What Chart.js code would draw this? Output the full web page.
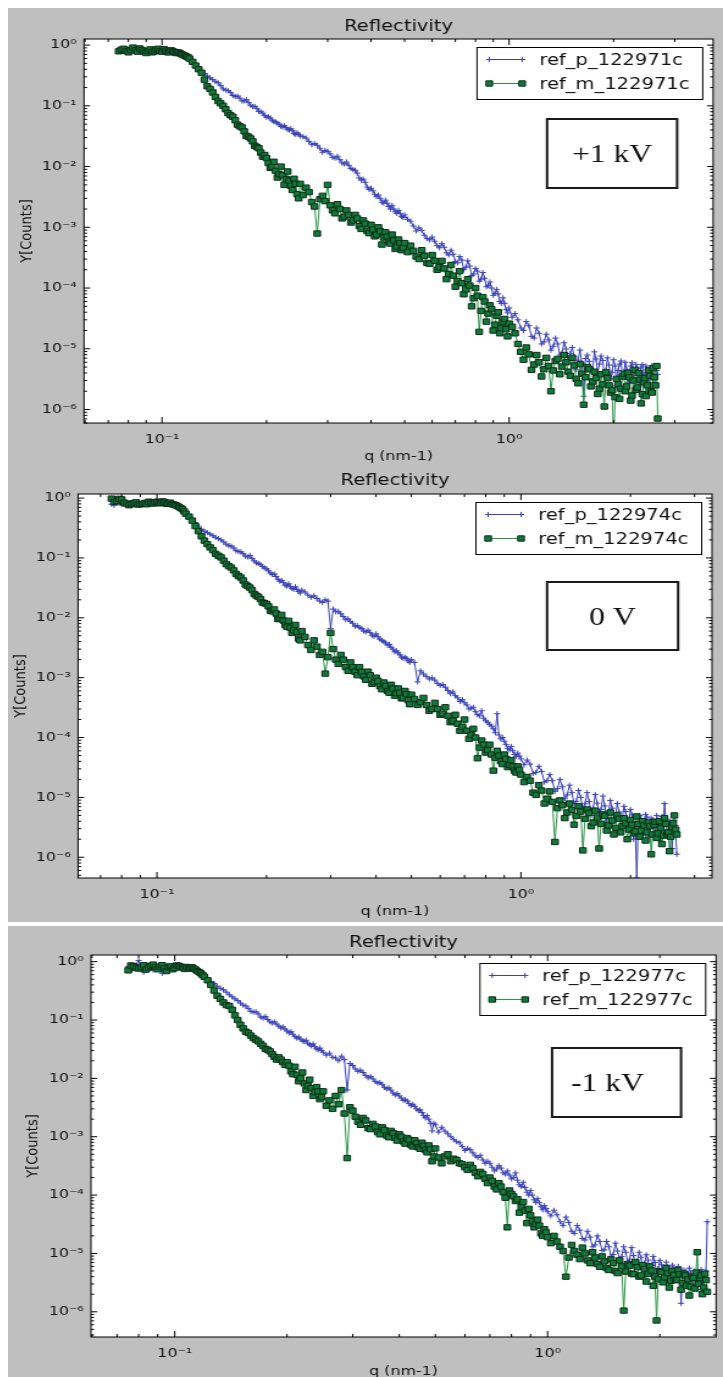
<!DOCTYPE html>
<html>
<head>
<meta charset="utf-8">
<script src="https://cdn.jsdelivr.net/npm/chart.js@4.4.1/dist/chart.umd.min.js"></script>
<style>
  html, body { margin: 0; padding: 0; background: #fff; }
  body { width: 723px; height: 1377px; position: relative; overflow: hidden; }
  canvas { position: absolute; left: 8px; }
</style>
</head>
<body>
<canvas id="panel1" width="586" height="455" style="top:8px;width:715px;height:455px"></canvas>
<canvas id="panel2" width="586" height="459" style="top:463px;width:715px;height:459px"></canvas>
<canvas id="panel3" width="586" height="451" style="top:926px;width:715px;height:451px"></canvas>
<script>
// q grid (nm-1), shared by the three runs
const qValues = [
  0.075, 0.07625, 0.0775, 0.07875, 0.08, 0.08125, 0.0825, 0.08375, 0.085, 0.08625, 0.0875, 0.08875, 0.09, 0.09125, 0.0925, 0.09375, 0.095, 0.09625, 0.0975,
  0.09875, 0.1, 0.10125, 0.1025, 0.10375, 0.105, 0.10625, 0.1075, 0.10875, 0.11, 0.11125, 0.1125, 0.11375, 0.115, 0.11625, 0.1175, 0.11875, 0.12,
  0.1225, 0.125, 0.1275, 0.13, 0.1325, 0.135, 0.1375, 0.14, 0.1425, 0.145, 0.1475, 0.15, 0.1525, 0.155, 0.1575, 0.16, 0.1625, 0.165, 0.1675, 0.17,
  0.1725, 0.175, 0.1775, 0.18, 0.1825, 0.185, 0.1875, 0.19, 0.1925, 0.195, 0.1975, 0.2, 0.2025, 0.205, 0.2075, 0.21, 0.2125, 0.215, 0.2175, 0.22,
  0.2225, 0.225, 0.2275, 0.23, 0.2325, 0.235, 0.2375, 0.24, 0.2425, 0.245, 0.2475, 0.25,
  0.255, 0.26, 0.265, 0.27, 0.275, 0.28, 0.285, 0.29, 0.295, 0.3, 0.305, 0.31, 0.315, 0.32, 0.325, 0.33, 0.335, 0.34, 0.345, 0.35, 0.355, 0.36, 0.365, 0.37, 0.375,
  0.38, 0.385, 0.39, 0.395, 0.4, 0.405, 0.41, 0.415, 0.42, 0.425, 0.43, 0.435, 0.44, 0.445, 0.45, 0.455, 0.46, 0.465, 0.47, 0.475, 0.48, 0.485, 0.49, 0.495, 0.5,
  0.51, 0.52, 0.53, 0.54, 0.55, 0.56, 0.57, 0.58, 0.59, 0.6, 0.61, 0.62, 0.63, 0.64, 0.65, 0.66, 0.67, 0.68, 0.69, 0.7, 0.71, 0.72, 0.73, 0.74, 0.75,
  0.76, 0.77, 0.78, 0.79, 0.8, 0.81, 0.82, 0.83, 0.84, 0.85, 0.86, 0.87, 0.88, 0.89, 0.9, 0.91, 0.92, 0.93, 0.94, 0.95, 0.96, 0.97, 0.98, 0.99, 1.0,
  1.02, 1.04, 1.06, 1.08, 1.1, 1.12, 1.14, 1.16, 1.18, 1.2, 1.22, 1.24, 1.26, 1.28, 1.3, 1.32, 1.34, 1.36, 1.38, 1.4, 1.42, 1.44, 1.46, 1.48, 1.5,
  1.52, 1.54, 1.56, 1.58, 1.6, 1.62, 1.64, 1.66, 1.68, 1.7, 1.72, 1.74, 1.76, 1.78, 1.8, 1.82, 1.84, 1.86, 1.88, 1.9, 1.92, 1.94, 1.96, 1.98, 2.0,
  2.02, 2.04, 2.06, 2.08, 2.1, 2.12, 2.14, 2.16, 2.18, 2.2, 2.22, 2.24, 2.26, 2.28, 2.3, 2.32, 2.34, 2.36, 2.38, 2.4, 2.42, 2.44, 2.46, 2.48, 2.5,
  2.52, 2.54, 2.56, 2.58, 2.6, 2.62, 2.64, 2.66, 2.68
];

// +1 kV run
const refP122971 = [
  0.83, 0.80, 0.79, 0.82, 0.85, 0.80, 0.81, 0.83, 0.78, 0.77, 0.81, 0.80, 0.79, 0.81, 0.76, 0.78, 0.79, 0.76, 0.78, 0.79, 0.76, 0.77, 0.74, 0.75, 0.78, 0.76, 0.74, 0.75, 0.72, 0.73, 0.71, 0.70, 0.68, 0.66, 0.63, 0.60, 0.56,
  0.52, 0.47, 0.43, 0.38, 0.34, 0.31, 0.29, 0.27, 0.25, 0.24, 0.215, 0.19, 0.182, 0.178, 0.165, 0.148, 0.142, 0.145, 0.134, 0.12, 0.121, 0.126, 0.113, 0.102, 0.097, 0.098,
  0.091, 0.081, 0.080, 0.076, 0.069, 0.065, 0.066, 0.063, 0.058, 0.055, 0.054, 0.052, 0.050, 0.046, 0.045, 0.047, 0.044, 0.041, 0.040, 0.042, 0.039, 0.035, 0.034, 0.036, 0.034, 0.032,
  3.1e-2, 2.95e-2, 2.6e-2, 2.29e-2, 2.4e-2, 2.24e-2, 2.0e-2, 1.72e-2, 1.85e-2, 1.78e-2, 1.62e-2, 1.42e-2, 1.38e-2, 1.48e-2, 1.3e-2, 1.15e-2, 1.1e-2, 1.19e-2, 1.05e-2, 9.3e-3, 8.9e-3, 8.7e-3, 7.8e-3, 6.5e-3, 6.0e-3,
  6.2e-3, 5.5e-3, 4.6e-3, 4.2e-3, 4.4e-3, 4.0e-3, 3.5e-3, 3.2e-3, 3.4e-3, 3.0e-3, 2.6e-3, 2.5e-3, 2.8e-3, 2.5e-3, 2.2e-3, 2.0e-3, 2.3e-3, 2.0e-3, 1.8e-3, 1.7e-3, 1.9e-3, 1.7e-3, 1.5e-3, 1.45e-3, 1.6e-3,
  1.35e-3, 1.26e-3, 1.05e-3, 8.7e-4, 9.8e-4, 8.9e-4, 7.4e-4, 6.5e-4, 6.2e-4, 6.9e-4, 5.9e-4, 5.0e-4, 4.6e-4, 5.4e-4, 4.7e-4, 3.8e-4, 3.5e-4, 4.2e-4, 3.6e-4, 2.75e-4, 2.6e-4, 3.3e-4, 2.9e-4, 2.0e-4, 2.2e-4,
  2.8e-4, 2.3e-4, 1.6e-4, 1.7e-4, 2.1e-4, 1.9e-4, 1.3e-4, 1.4e-4, 1.8e-4, 1.45e-4, 1.05e-4, 1.1e-4, 1.26e-4, 1.0e-4, 7.6e-5, 8.2e-5, 9.5e-5, 8.0e-5, 6.0e-5, 5.6e-5, 6.9e-5, 5.6e-5, 4.4e-5, 3.9e-5, 4.7e-5,
  3.3e-5, 3.8e-5, 3.0e-5, 2.2e-5, 2.0e-5, 2.8e-5, 2.4e-5, 1.6e-5, 1.5e-5, 2.2e-5, 1.8e-5, 1.2e-5, 1.3e-5, 1.74e-5, 1.4e-5, 9.5e-6, 1.1e-5, 1.5e-5, 1.2e-5, 7.9e-6, 8.5e-6, 1.26e-5, 9.9e-6, 6.0e-6, 8.3e-6,
  1.05e-5, 7.4e-6, 4.5e-6, 6.5e-6, 9.5e-6, 5.8e-6, 1.66e-6, 6.9e-6, 7.9e-6, 6.2e-6, 4.8e-6, 4.3e-6, 8.9e-6, 6.8e-6, 4.0e-6, 5.6e-6, 7.6e-6, 6.4e-6, 3.5e-6, 4.4e-6, 7.1e-6, 5.4e-6, 3.2e-6, 4.1e-6, 6.6e-6,
  5.2e-6, 2.5e-6, 4.4e-6, 5.6e-6, 6.3e-6, 3.3e-6, 3.9e-6, 6.0e-6, 4.6e-6, 2.8e-6, 4.2e-6, 5.2e-6, 5.9e-6, 3.2e-6, 4.0e-6, 5.5e-6, 4.7e-6, 2.4e-6, 3.6e-6, 5.0e-6, 5.5e-6, 3.0e-6, 3.7e-6, 5.2e-6, 4.5e-6,
  2.6e-6, 3.3e-6, 4.8e-6, 5.3e-6, 2.8e-6, 3.6e-6, 5.0e-6, 4.4e-6, 3.8e-6
];
const refM122971 = [
  0.79, 0.84, 0.87, 0.80, 0.76, 0.83, 0.91, 0.82, 0.78, 0.88, 0.83, 0.78, 0.74, 0.80, 0.85, 0.76, 0.79, 0.84, 0.87, 0.80, 0.78, 0.86, 0.81, 0.77, 0.76, 0.82, 0.79, 0.77, 0.74, 0.76, 0.74, 0.71, 0.69, 0.67, 0.65, 0.63, 0.60,
  0.53, 0.46, 0.40, 0.35, 0.27, 0.21, 0.19, 0.166, 0.14, 0.12, 0.11, 0.10, 0.088, 0.076, 0.070, 0.066, 0.058, 0.049, 0.046, 0.044, 0.038, 0.032, 0.031, 0.029, 0.026, 0.022,
  0.021, 0.020, 0.017, 0.0145, 0.0155, 0.0138, 0.0115, 0.0095, 0.0098, 0.012, 0.0085, 0.0066, 0.0075, 0.010, 0.0072, 0.005, 0.0062, 0.0083, 0.0058, 0.0048, 0.0041, 0.0063, 0.0052, 0.0035, 0.0030, 0.0052,
  3.4e-3, 4.5e-3, 3.8e-3, 2.6e-3, 2.2e-3, 7.9e-4, 2.9e-3, 3.3e-3, 2.7e-3, 5.0e-3, 2.3e-3, 1.9e-3, 1.7e-3, 2.4e-3, 2.0e-3, 1.4e-3, 1.5e-3, 1.9e-3, 1.6e-3, 1.2e-3, 1.3e-3, 1.6e-3, 1.4e-3, 1.05e-3, 9.4e-4,
  1.3e-3, 1.15e-3, 8.7e-4, 8.0e-4, 1.1e-3, 9.2e-4, 7.1e-4, 7.6e-4, 1.0e-3, 8.6e-4, 5.2e-4, 6.8e-4, 8.3e-4, 7.0e-4, 5.8e-4, 5.4e-4, 7.6e-4, 6.1e-4, 4.4e-4, 4.8e-4, 6.3e-4, 5.5e-4, 4.2e-4, 4.6e-4, 5.5e-4,
  3.9e-4, 5.0e-4, 4.1e-4, 3.3e-4, 3.0e-4, 4.2e-4, 3.4e-4, 2.6e-4, 2.5e-4, 3.5e-4, 2.8e-4, 2.0e-4, 2.2e-4, 2.8e-4, 2.1e-4, 1.4e-4, 1.7e-4, 2.4e-4, 1.6e-4, 1.05e-4, 1.3e-4, 1.9e-4, 1.2e-4, 7.9e-5, 9.5e-5,
  1.4e-4, 1.1e-4, 5.0e-5, 6.8e-5, 1.0e-4, 7.5e-5, 1.9e-5, 4.2e-5, 7.1e-5, 6.0e-5, 2.8e-5, 3.8e-5, 5.2e-5, 4.5e-5, 2.0e-5, 2.5e-5, 3.5e-5, 4.0e-5, 1.8e-5, 2.2e-5, 2.8e-5, 3.1e-5, 2.1e-5, 1.6e-5, 2.6e-5,
  2.3e-5, 1.8e-5, 1.2e-5, 8.9e-6, 6.6e-6, 1.05e-5, 8.1e-6, 4.5e-6, 5.5e-6, 7.9e-6, 6.0e-6, 3.5e-6, 4.6e-6, 7.1e-6, 5.2e-6, 2.0e-6, 4.4e-6, 6.3e-6, 6.8e-6, 3.8e-6, 5.1e-6, 7.9e-6, 6.0e-6, 4.2e-6, 3.6e-6,
  7.1e-6, 5.3e-6, 3.2e-6, 2.7e-6, 5.6e-6, 3.9e-6, 1.2e-6, 3.4e-6, 5.0e-6, 4.6e-6, 2.4e-6, 2.9e-6, 4.2e-6, 3.3e-6, 1.8e-6, 2.2e-6, 3.8e-6, 2.6e-6, 1.12e-6, 4.1e-6, 3.3e-6, 2.5e-6, 1.9e-6, 2.1e-6, 3.0e-7,
  1.6e-6, 3.2e-6, 2.6e-6, 1.5e-6, 2.2e-6, 3.5e-6, 3.9e-6, 2.0e-6, 2.4e-6, 4.0e-6, 3.4e-6, 1.4e-6, 1.7e-6, 3.0e-6, 4.5e-6, 2.1e-6, 2.3e-6, 4.0e-6, 3.1e-6, 1.26e-6, 1.8e-6, 2.8e-6, 3.3e-6, 1.66e-6, 2.5e-6,
  4.4e-6, 3.6e-6, 2.0e-6, 1.9e-6, 4.8e-6, 3.4e-6, 2.5e-6, 5.2e-6, 7.1e-7
];

// 0 V run
const refP122974 = [
  0.79, 0.76, 0.83, 0.81, 0.78, 0.80, 0.83, 0.81, 0.79, 0.82, 0.85, 0.83, 0.81, 0.83, 0.85, 0.84, 0.83, 0.86, 0.87, 0.84, 0.85, 0.86, 0.87, 0.85, 0.83, 0.86, 0.85, 0.83, 0.81, 0.80, 0.78, 0.75, 0.72, 0.69, 0.65, 0.61, 0.56,
  0.50, 0.45, 0.39, 0.34, 0.30, 0.28, 0.265, 0.25, 0.235, 0.22, 0.21, 0.20, 0.185, 0.17, 0.16, 0.158, 0.147, 0.132, 0.128, 0.126, 0.118, 0.107, 0.104, 0.11, 0.098, 0.089,
  0.083, 0.081, 0.078, 0.072, 0.068, 0.066, 0.061, 0.056, 0.053, 0.054, 0.049, 0.044, 0.041, 0.042, 0.039, 0.035, 0.034, 0.037, 0.033, 0.031, 0.030, 0.033, 0.030, 0.0275, 0.026, 0.029,
  0.027, 0.024, 0.022, 0.0234, 0.021, 0.019, 0.018, 0.020, 0.019, 0.0066, 0.014, 0.0126, 0.0128, 0.0117, 0.0105, 0.0093, 0.0096, 0.0087, 0.0081, 0.0072, 0.0074, 0.0069, 0.0066, 0.0060, 0.0058,
  0.0062, 0.0057, 0.0051, 0.0049, 0.0054, 0.0048, 0.0044, 0.0042, 0.0040, 0.0038, 0.0035, 0.0036, 0.0032, 0.0030, 0.0027, 0.0028, 0.0026, 0.0024, 0.0022, 0.0021, 0.0022, 0.0021, 0.0019, 0.0018, 0.0020,
  1.8e-3, 8.5e-4, 1.3e-3, 1.15e-3, 1.05e-3, 9.5e-4, 9.9e-4, 9.1e-4, 8.0e-4, 7.4e-4, 7.7e-4, 6.9e-4, 6.1e-4, 5.4e-4, 5.8e-4, 5.0e-4, 4.6e-4, 4.0e-4, 4.3e-4, 3.8e-4, 3.5e-4, 3.0e-4, 3.1e-4, 3.2e-4, 2.7e-4,
  2.4e-4, 2.3e-4, 2.8e-4, 2.1e-4, 1.9e-4, 1.8e-4, 1.66e-4, 1.55e-4, 1.4e-4, 1.2e-4, 2.5e-4, 1.1e-4, 9.5e-5, 1.0e-4, 8.7e-5, 7.6e-5, 6.6e-5, 6.2e-5, 7.1e-5, 6.0e-5, 5.2e-5, 4.8e-5, 5.5e-5, 4.9e-5, 4.4e-5,
  3.5e-5, 4.2e-5, 3.6e-5, 2.5e-5, 2.6e-5, 3.3e-5, 2.7e-5, 1.8e-5, 1.9e-5, 2.4e-5, 1.9e-5, 1.26e-5, 1.4e-5, 2.0e-5, 1.5e-5, 9.5e-6, 1.1e-5, 1.6e-5, 1.2e-5, 7.9e-6, 8.6e-6, 1.3e-5, 1.0e-5, 6.6e-6, 7.8e-6,
  1.2e-5, 8.5e-6, 5.0e-6, 6.6e-6, 1.12e-5, 8.0e-6, 5.6e-6, 6.3e-6, 1.05e-5, 7.2e-6, 4.0e-6, 5.4e-6, 8.9e-6, 6.6e-6, 4.5e-6, 4.9e-6, 7.9e-6, 5.7e-6, 2.8e-6, 4.6e-6, 7.1e-6, 5.8e-6, 3.5e-6, 4.0e-6, 6.3e-6,
  5.1e-6, 2.0e-6, 3.6e-6, 4.5e-7, 3.2e-6, 5.0e-6, 4.4e-6, 2.5e-6, 3.4e-6, 5.2e-6, 4.7e-6, 2.2e-6, 3.1e-6, 4.5e-6, 4.2e-6, 2.6e-6, 3.0e-6, 5.0e-6, 4.1e-6, 1.9e-6, 2.7e-6, 4.8e-6, 3.5e-6, 7.9e-6, 4.3e-6,
  2.4e-6, 2.9e-6, 4.0e-6, 3.8e-6, 1.4e-6, 2.6e-6, 4.2e-6, 3.4e-6, 1.12e-6
];
const refM122974 = [
  0.98, 0.86, 0.89, 0.97, 0.95, 0.84, 0.81, 0.76, 0.79, 0.82, 0.85, 0.78, 0.79, 0.80, 0.83, 0.79, 0.87, 0.84, 0.81, 0.85, 0.87, 0.82, 0.83, 0.88, 0.85, 0.80, 0.81, 0.84, 0.79, 0.78, 0.76, 0.74, 0.71, 0.68, 0.65, 0.60, 0.55,
  0.49, 0.42, 0.34, 0.28, 0.23, 0.195, 0.17, 0.15, 0.135, 0.117, 0.109, 0.102, 0.090, 0.079, 0.073, 0.069, 0.062, 0.054, 0.050, 0.047, 0.042, 0.036, 0.034, 0.032, 0.029, 0.025,
  0.0235, 0.0224, 0.0205, 0.018, 0.0175, 0.017, 0.0155, 0.0132, 0.0128, 0.0138, 0.0118, 0.0095, 0.0098, 0.0112, 0.0090, 0.0076, 0.0071, 0.0089, 0.0068, 0.0056, 0.0062, 0.0076, 0.0058, 0.0045, 0.0042, 0.006,
  4.8e-3, 3.5e-3, 2.9e-3, 4.2e-3, 3.3e-3, 2.4e-3, 2.7e-3, 1.17e-3, 2.2e-3, 5.6e-3, 3.0e-3, 2.0e-3, 1.7e-3, 2.4e-3, 2.0e-3, 1.5e-3, 1.3e-3, 1.8e-3, 1.5e-3, 1.26e-3, 1.1e-3, 1.5e-3, 1.25e-3, 1.05e-3, 9.2e-4,
  1.26e-3, 1.1e-3, 7.9e-4, 8.5e-4, 1.0e-3, 8.8e-4, 7.2e-4, 6.4e-4, 8.3e-4, 7.3e-4, 6.0e-4, 5.6e-4, 7.6e-4, 6.6e-4, 5.0e-4, 5.5e-4, 6.6e-4, 5.6e-4, 4.5e-4, 4.6e-4, 6.0e-4, 5.3e-4, 4.2e-4, 3.6e-4, 5.2e-4,
  4.4e-4, 3.5e-4, 3.9e-4, 4.6e-4, 3.5e-4, 2.8e-4, 3.0e-4, 3.8e-4, 3.0e-4, 2.4e-4, 2.5e-4, 3.2e-4, 2.3e-4, 1.8e-4, 1.9e-4, 2.4e-4, 1.7e-4, 1.3e-4, 1.5e-4, 2.0e-4, 1.3e-4, 9.5e-5, 1.1e-4, 1.4e-4, 1.0e-4,
  4.5e-5, 6.8e-5, 8.9e-5, 7.6e-5, 5.6e-5, 6.2e-5, 7.6e-5, 5.2e-5, 2.8e-5, 4.6e-5, 6.0e-5, 5.0e-5, 4.0e-5, 3.6e-5, 5.2e-5, 4.4e-5, 3.2e-5, 3.5e-5, 4.2e-5, 3.3e-5, 2.8e-5, 2.6e-5, 3.3e-5, 2.9e-5, 2.4e-5,
  1.8e-5, 2.2e-5, 1.9e-5, 1.2e-5, 1.1e-5, 1.6e-5, 1.3e-5, 7.9e-6, 9.5e-6, 1.26e-5, 8.4e-6, 1.8e-6, 6.6e-6, 8.9e-6, 7.4e-6, 4.5e-6, 5.6e-6, 7.9e-6, 6.2e-6, 3.5e-6, 4.9e-6, 7.1e-6, 5.8e-6, 1.3e-6, 4.4e-6,
  6.3e-6, 5.5e-6, 3.3e-6, 3.8e-6, 6.0e-6, 4.6e-6, 1.4e-6, 3.6e-6, 5.2e-6, 4.9e-6, 2.8e-6, 3.4e-6, 5.6e-6, 4.1e-6, 2.4e-6, 3.1e-6, 5.0e-6, 4.4e-6, 2.6e-6, 3.3e-6, 4.5e-6, 3.7e-6, 2.0e-6, 2.9e-6, 4.2e-6,
  3.5e-6, 2.5e-6, 2.7e-6, 4.8e-6, 3.6e-6, 2.2e-6, 2.8e-6, 4.0e-6, 3.4e-6, 1.9e-6, 2.6e-6, 3.8e-6, 3.3e-6, 1.12e-6, 2.4e-6, 3.5e-6, 3.9e-6, 2.1e-6, 2.5e-6, 4.0e-6, 3.1e-6, 1.66e-6, 2.3e-6, 4.5e-6, 3.6e-6,
  2.4e-6, 2.6e-6, 1.26e-6, 2.2e-6, 3.2e-6, 3.7e-6, 5.0e-6, 2.9e-6, 2.4e-6
];

// -1 kV run
const refP122977 = [
  0.83, 0.70, 0.76, 0.88, 1.05, 0.80, 0.66, 0.79, 0.87, 0.78, 0.72, 0.90, 0.83, 0.74, 0.63, 0.81, 0.85, 0.70, 0.76, 0.86, 0.83, 0.77, 0.79, 0.84, 0.81, 0.74, 0.76, 0.80, 0.79, 0.78, 0.76, 0.74, 0.71, 0.69, 0.66, 0.63, 0.59,
  0.52, 0.46, 0.42, 0.38, 0.35, 0.33, 0.30, 0.27, 0.25, 0.23, 0.215, 0.195, 0.18, 0.174, 0.158, 0.141, 0.137, 0.138, 0.127, 0.112, 0.108, 0.115, 0.102, 0.093, 0.089, 0.093,
  0.085, 0.079, 0.073, 0.076, 0.070, 0.065, 0.060, 0.063, 0.057, 0.052, 0.049, 0.051, 0.047, 0.044, 0.043, 0.045, 0.040, 0.038, 0.036, 0.039, 0.035, 0.032, 0.031, 0.033, 0.030, 0.028,
  0.025, 0.027, 0.023, 0.0224, 0.020, 0.024, 0.021, 0.0063, 0.018, 0.0166, 0.0145, 0.0132, 0.0138, 0.0126, 0.0112, 0.0102, 0.0108, 0.0098, 0.0088, 0.0083, 0.0085, 0.0079, 0.0070, 0.0066, 0.0069,
  0.0063, 0.0056, 0.0052, 0.0055, 0.0050, 0.0046, 0.0042, 0.0043, 0.0041, 0.0037, 0.0034, 0.0036, 0.0033, 0.0030, 0.0028, 0.0029, 0.0026, 0.0023, 0.0021, 0.0023, 0.0020, 0.0017, 0.00126, 0.0017, 0.0016,
  1.2e-3, 1.45e-3, 1.25e-3, 1.12e-3, 1.0e-3, 8.9e-4, 8.2e-4, 7.9e-4, 6.8e-4, 5.8e-4, 6.3e-4, 6.0e-4, 5.3e-4, 4.7e-4, 4.4e-4, 4.8e-4, 4.0e-4, 3.5e-4, 3.8e-4, 3.5e-4, 3.0e-4, 2.6e-4, 2.8e-4, 3.2e-4, 2.9e-4,
  2.4e-4, 2.3e-4, 2.6e-4, 2.2e-4, 1.9e-4, 2.0e-4, 2.4e-4, 1.8e-4, 1.5e-4, 1.4e-4, 1.66e-4, 1.35e-4, 1.12e-4, 1.0e-4, 1.2e-4, 1.0e-4, 8.3e-5, 7.5e-5, 8.7e-5, 7.4e-5, 6.3e-5, 5.6e-5, 6.6e-5, 5.9e-5, 5.2e-5,
  4.4e-5, 5.5e-5, 4.6e-5, 3.5e-5, 3.0e-5, 4.2e-5, 3.4e-5, 2.4e-5, 2.2e-5, 3.0e-5, 2.5e-5, 1.8e-5, 1.7e-5, 2.4e-5, 1.9e-5, 1.3e-5, 1.4e-5, 2.0e-5, 1.6e-5, 1.12e-5, 1.15e-5, 1.6e-5, 1.3e-5, 8.9e-6, 9.6e-6,
  1.5e-5, 1.1e-5, 7.9e-6, 8.8e-6, 1.3e-5, 1.05e-5, 7.1e-6, 8.0e-6, 1.26e-5, 9.2e-6, 6.3e-6, 7.4e-6, 1.05e-5, 8.6e-6, 5.6e-6, 6.8e-6, 9.5e-6, 7.7e-6, 5.2e-6, 6.2e-6, 8.9e-6, 7.0e-6, 4.5e-6, 5.5e-6, 7.6e-6,
  6.4e-6, 5.0e-6, 5.3e-6, 7.1e-6, 5.9e-6, 4.0e-6, 4.6e-6, 6.3e-6, 5.5e-6, 3.5e-6, 4.2e-6, 6.0e-6, 4.8e-6, 1.4e-6, 4.0e-6, 5.2e-6, 4.9e-6, 3.2e-6, 3.7e-6, 5.6e-6, 4.6e-6, 2.8e-6, 3.5e-6, 5.0e-6, 4.4e-6,
  2.4e-6, 3.3e-6, 4.8e-6, 5.3e-6, 3.5e-6, 2.7e-6, 4.2e-6, 5.0e-6, 3.5e-5
];
const refM122977 = [
  0.71, 0.86, 0.83, 0.79, 0.76, 0.81, 0.87, 0.73, 0.79, 0.84, 0.89, 0.80, 0.74, 0.82, 0.87, 0.77, 0.69, 0.80, 0.83, 0.74, 0.78, 0.86, 0.85, 0.82, 0.79, 0.75, 0.81, 0.79, 0.76, 0.80, 0.76, 0.73, 0.69, 0.66, 0.63, 0.59, 0.55,
  0.48, 0.40, 0.32, 0.26, 0.23, 0.20, 0.18, 0.174, 0.15, 0.12, 0.10, 0.083, 0.072, 0.063, 0.060, 0.054, 0.049, 0.046, 0.043, 0.039, 0.036, 0.032, 0.031, 0.029, 0.026, 0.0234,
  0.021, 0.0229, 0.021, 0.019, 0.017, 0.019, 0.0165, 0.0132, 0.0118, 0.0158, 0.0115, 0.0089, 0.0100, 0.0126, 0.0082, 0.0063, 0.0075, 0.0095, 0.0068, 0.005, 0.0058, 0.0071, 0.0060, 0.0044, 0.0048, 0.006,
  3.4e-3, 4.2e-3, 3.0e-3, 5.0e-3, 3.6e-3, 6.3e-3, 2.5e-3, 4.3e-4, 3.2e-3, 2.8e-3, 2.2e-3, 1.8e-3, 1.6e-3, 2.1e-3, 1.9e-3, 1.4e-3, 1.35e-3, 1.66e-3, 1.5e-3, 1.2e-3, 1.1e-3, 1.45e-3, 1.3e-3, 1.05e-3, 9.8e-4,
  1.26e-3, 1.15e-3, 9.5e-4, 8.6e-4, 1.1e-3, 1.0e-3, 8.3e-4, 7.6e-4, 9.5e-4, 8.9e-4, 7.2e-4, 6.8e-4, 8.7e-4, 7.7e-4, 6.6e-4, 6.2e-4, 7.9e-4, 7.0e-4, 6.0e-4, 5.4e-4, 7.1e-4, 6.1e-4, 3.8e-4, 4.6e-4, 6.3e-4,
  4.4e-4, 3.5e-4, 4.6e-4, 5.0e-4, 3.8e-4, 4.2e-4, 4.0e-4, 3.5e-4, 3.4e-4, 3.0e-4, 2.7e-4, 3.3e-4, 2.9e-4, 2.4e-4, 2.1e-4, 2.5e-4, 2.3e-4, 1.9e-4, 1.6e-4, 2.0e-4, 1.75e-4, 1.4e-4, 1.25e-4, 1.6e-4, 1.4e-4,
  1.12e-4, 9.0e-5, 2.8e-5, 1.2e-4, 1.05e-4, 9.5e-5, 7.9e-5, 8.5e-5, 5.0e-5, 6.2e-5, 7.6e-5, 5.4e-5, 3.3e-5, 5.8e-5, 4.5e-5, 3.6e-5, 2.8e-5, 3.2e-5, 3.8e-5, 3.0e-5, 2.2e-5, 2.0e-5, 2.6e-5, 2.3e-5, 1.9e-5,
  1.5e-5, 2.0e-5, 1.6e-5, 1.3e-5, 1.1e-5, 4.0e-6, 8.5e-6, 1.4e-5, 1.1e-5, 9.5e-6, 8.0e-6, 1.26e-5, 1.0e-5, 7.6e-6, 6.8e-6, 1.05e-5, 8.5e-6, 6.6e-6, 5.9e-6, 8.9e-6, 7.3e-6, 5.6e-6, 5.2e-6, 7.9e-6, 6.8e-6,
  5.0e-6, 4.6e-6, 7.6e-6, 6.0e-6, 1.05e-6, 4.9e-6, 6.6e-6, 6.2e-6, 4.5e-6, 4.4e-6, 7.1e-6, 5.8e-6, 4.0e-6, 4.2e-6, 6.3e-6, 5.4e-6, 3.3e-6, 4.5e-6, 6.0e-6, 5.1e-6, 2.8e-6, 4.0e-6, 7.1e-7, 3.6e-6, 5.0e-6,
  4.8e-6, 3.2e-6, 3.9e-6, 5.6e-6, 4.6e-6, 2.6e-6, 3.4e-6, 5.0e-6, 4.3e-6, 3.5e-6, 3.5e-6, 5.2e-6, 4.4e-6, 2.4e-6, 3.1e-6, 4.5e-6, 4.2e-6, 2.8e-6, 3.6e-6, 1.9e-6, 2.7e-6, 4.0e-6, 3.8e-6, 2.5e-6, 4.7e-6,
  1.05e-5, 3.0e-6, 3.8e-6, 4.2e-6, 2.0e-6, 2.6e-6, 4.5e-6, 3.5e-6, 2.2e-6
];

const plusLabels = ["ref_p_122971c", "ref_p_122974c", "ref_p_122977c"];
const minusLabels = ["ref_m_122971c", "ref_m_122974c", "ref_m_122977c"];
const voltageNotes = ["+1 kV", "0 V", "-1 kV"];

const xTickValues = [0.1, 1];
const xTickLabels = ["10\u207B\u00B9", "10\u2070"];
const yTickValues = [1e-6, 1e-5, 1e-4, 1e-3, 1e-2, 1e-1, 1];
const yTickLabels = ["10\u207B\u2076", "10\u207B\u2075", "10\u207B\u2074", "10\u207B\u00B3", "10\u207B\u00B2", "10\u207B\u00B9", "10\u2070"];

const BLUE = "rgb(58,66,184)";
const GREEN_LINE = "rgb(40,150,70)";
const GREEN_FILL = "rgb(16,122,58)";
const GREEN_EDGE = "rgb(14,44,24)";

Chart.defaults.font.family = '"DejaVu Sans", sans-serif';

// layout per panel (canvas units; canvases are stretched 1.22x horizontally by css)
const panels = [
  { id: "panel1", p: refP122971, m: refM122971, xMin: 0.0596, xMax: 3.87, yMin: 6.0e-7, yMax: 1.26,
    padTop: 31, padRight: 8.1, yWidth: 62.3, xHeight: 40, yTitlePad: 7.4, xTitlePad: -1.8, titleY: 19,
    note: { right: 136.1, width: 106.6, top: 80, height: 69, dx: 0 } },
  { id: "panel2", p: refP122974, m: refM122974, xMin: 0.0607, xMax: 3.35, yMin: 4.5e-7, yMax: 1.17,
    padTop: 31, padRight: 9, yWidth: 57.4, xHeight: 44, yTitlePad: 2.9, xTitlePad: 2.2, titleY: 18,
    note: { right: 135.2, width: 107.4, top: 88, height: 68, dx: 0 } },
  { id: "panel3", p: refP122977, m: refM122977, xMin: 0.0596, xMax: 2.83, yMin: 3.7e-7, yMax: 1.30,
    padTop: 29, padRight: 5.7, yWidth: 68, xHeight: 40, yTitlePad: 12.7, xTitlePad: -2.8, titleY: 17,
    note: { right: 134.4, width: 105.7, top: 93, height: 69, dx: -7.4 } }
];

function logTicks(ctx, scale, area, vertical) {
  const lo = Math.floor(Math.log10(scale.min));
  const hi = Math.ceil(Math.log10(scale.max));
  ctx.beginPath();
  for (let e = lo; e <= hi; e++) {
    for (let k = 1; k <= 9; k++) {
      const v = k * Math.pow(10, e);
      if (v < scale.min || v > scale.max) continue;
      const p = scale.getPixelForValue(v);
      if (vertical) {
        const len = k === 1 ? 6 : 3;
        ctx.moveTo(p, area.bottom); ctx.lineTo(p, area.bottom - len);
        ctx.moveTo(p, area.top); ctx.lineTo(p, area.top + len);
      } else {
        const len = k === 1 ? 5 : 2.5;
        ctx.moveTo(area.left, p); ctx.lineTo(area.left + len, p);
        ctx.moveTo(area.right, p); ctx.lineTo(area.right - len, p);
      }
    }
  }
  ctx.stroke();
}

const panelDecor = {
  id: "panelDecor",
  beforeDraw(chart) {
    const { ctx, chartArea: a } = chart;
    ctx.save();
    ctx.fillStyle = "#bfbfbf";
    ctx.fillRect(0, 0, chart.width, chart.height);
    ctx.fillStyle = "#fff";
    ctx.fillRect(a.left, a.top, a.right - a.left, a.bottom - a.top);
    ctx.restore();
  },
  afterDatasetsDraw(chart) {
    const { ctx, chartArea: a } = chart;
    const cfg = chart.options.plugins.panelDecor;
    ctx.save();
    // frame + inward ticks on all four sides
    ctx.strokeStyle = "#000";
    ctx.lineWidth = 1;
    ctx.strokeRect(a.left, a.top, a.right - a.left, a.bottom - a.top);
    logTicks(ctx, chart.scales.x, a, true);
    logTicks(ctx, chart.scales.y, a, false);

    // title
    ctx.fillStyle = "#111";
    ctx.font = '16px "DejaVu Sans"';
    ctx.textAlign = "center";
    ctx.textBaseline = "middle";
    ctx.fillText("Reflectivity", (a.left + a.right) / 2, cfg.titleY);

    // legend box, top right
    const bw = 185, bh = 52;
    const bx = a.right - 8.5 - bw, by = a.top + 8.5;
    ctx.fillStyle = "#fff";
    ctx.fillRect(bx, by, bw, bh);
    ctx.strokeStyle = "#000";
    ctx.strokeRect(bx, by, bw, bh);
    const rows = [
      { y: by + 12, ds: chart.data.datasets[0] },
      { y: by + 36, ds: chart.data.datasets[1] }
    ];
    rows.forEach(r => {
      const ds = r.ds;
      ctx.strokeStyle = ds.borderColor;
      ctx.lineWidth = 1;
      ctx.beginPath();
      ctx.moveTo(bx + 10, r.y); ctx.lineTo(bx + 37, r.y);
      ctx.stroke();
      [bx + 10, bx + 37].forEach(px => {
        ctx.fillStyle = ds.pointBackgroundColor;
        ctx.strokeStyle = ds.pointBorderColor;
        ctx.lineWidth = ds.pointBorderWidth;
        Chart.helpers.drawPoint(ctx, { pointStyle: ds.pointStyle, radius: ds.pointRadius, rotation: 0, borderWidth: ds.pointBorderWidth }, px, r.y);
      });
      ctx.fillStyle = "#111";
      ctx.font = '16px "DejaVu Sans"';
      ctx.textAlign = "left";
      ctx.textBaseline = "middle";
      ctx.fillText(ds.label, bx + 51, r.y + 1);
    });

    // voltage note box
    const n = cfg.note;
    const nx = a.right - n.right, ny = a.top + n.top;
    ctx.fillStyle = "#fff";
    ctx.fillRect(nx, ny, n.width, n.height);
    ctx.strokeStyle = "#1a1a1a";
    ctx.lineWidth = 2;
    ctx.strokeRect(nx, ny, n.width, n.height);
    ctx.fillStyle = "#111";
    ctx.font = '26px "Liberation Serif"';
    ctx.textAlign = "center";
    ctx.textBaseline = "middle";
    ctx.fillText(cfg.text, nx + n.width / 2 + n.dx, ny + n.height / 2 + 2);
    ctx.restore();
  }
};

panels.forEach((cfg, i) => {
  const ctx = document.getElementById(cfg.id).getContext("2d");
  new Chart(ctx, {
    type: "scatter",
    data: {
      datasets: [
        {
          label: plusLabels[i],
          data: qValues.map((q, j) => ({ x: q, y: cfg.p[j] })),
          showLine: true,
          borderColor: BLUE,
          borderWidth: 1,
          pointStyle: "cross",
          pointRadius: 2.6,
          pointBorderColor: BLUE,
          pointBackgroundColor: BLUE,
          pointBorderWidth: 1,
          order: 2
        },
        {
          label: minusLabels[i],
          data: qValues.map((q, j) => ({ x: q, y: cfg.m[j] })),
          showLine: true,
          borderColor: GREEN_LINE,
          borderWidth: 1,
          pointStyle: "rect",
          pointRadius: 3.8,
          pointBorderColor: GREEN_EDGE,
          pointBackgroundColor: GREEN_FILL,
          pointBorderWidth: 1,
          order: 1
        }
      ]
    },
    options: {
      responsive: false,
      animation: false,
      devicePixelRatio: 1,
      events: [],
      layout: { padding: { top: cfg.padTop, right: cfg.padRight, bottom: 0, left: 0 } },
      plugins: {
        legend: { display: false },
        tooltip: { enabled: false },
        panelDecor: { titleY: cfg.titleY, note: cfg.note, text: voltageNotes[i] }
      },
      scales: {
        x: {
          type: "logarithmic",
          min: cfg.xMin,
          max: cfg.xMax,
          grid: { display: false, drawTicks: false },
          border: { display: false },
          afterBuildTicks: s => { s.ticks = xTickValues.map(v => ({ value: v })); },
          afterFit: s => { s.height = cfg.xHeight; },
          ticks: {
            autoSkip: false, maxRotation: 0, padding: 9, color: "#111",
            font: { size: 13 },
            callback: v => xTickLabels[xTickValues.indexOf(v)] || ""
          },
          title: {
            display: true, text: "q (nm-1)", color: "#111",
            font: { size: 13 }, padding: { top: 0, bottom: cfg.xTitlePad }
          }
        },
        y: {
          type: "logarithmic",
          min: cfg.yMin,
          max: cfg.yMax,
          grid: { display: false, drawTicks: false },
          border: { display: false },
          afterBuildTicks: s => { s.ticks = yTickValues.map(v => ({ value: v })); },
          afterFit: s => { s.width = cfg.yWidth; },
          ticks: {
            autoSkip: false, padding: 6, color: "#111",
            font: { size: 13 },
            callback: v => yTickLabels[yTickValues.indexOf(v)] || ""
          },
          title: {
            display: true, text: "Y[Counts]", color: "#111",
            font: { size: 13 }, padding: { top: cfg.yTitlePad, bottom: 0 }
          }
        }
      }
    },
    plugins: [panelDecor]
  });
});
</script>
</body>
</html>
